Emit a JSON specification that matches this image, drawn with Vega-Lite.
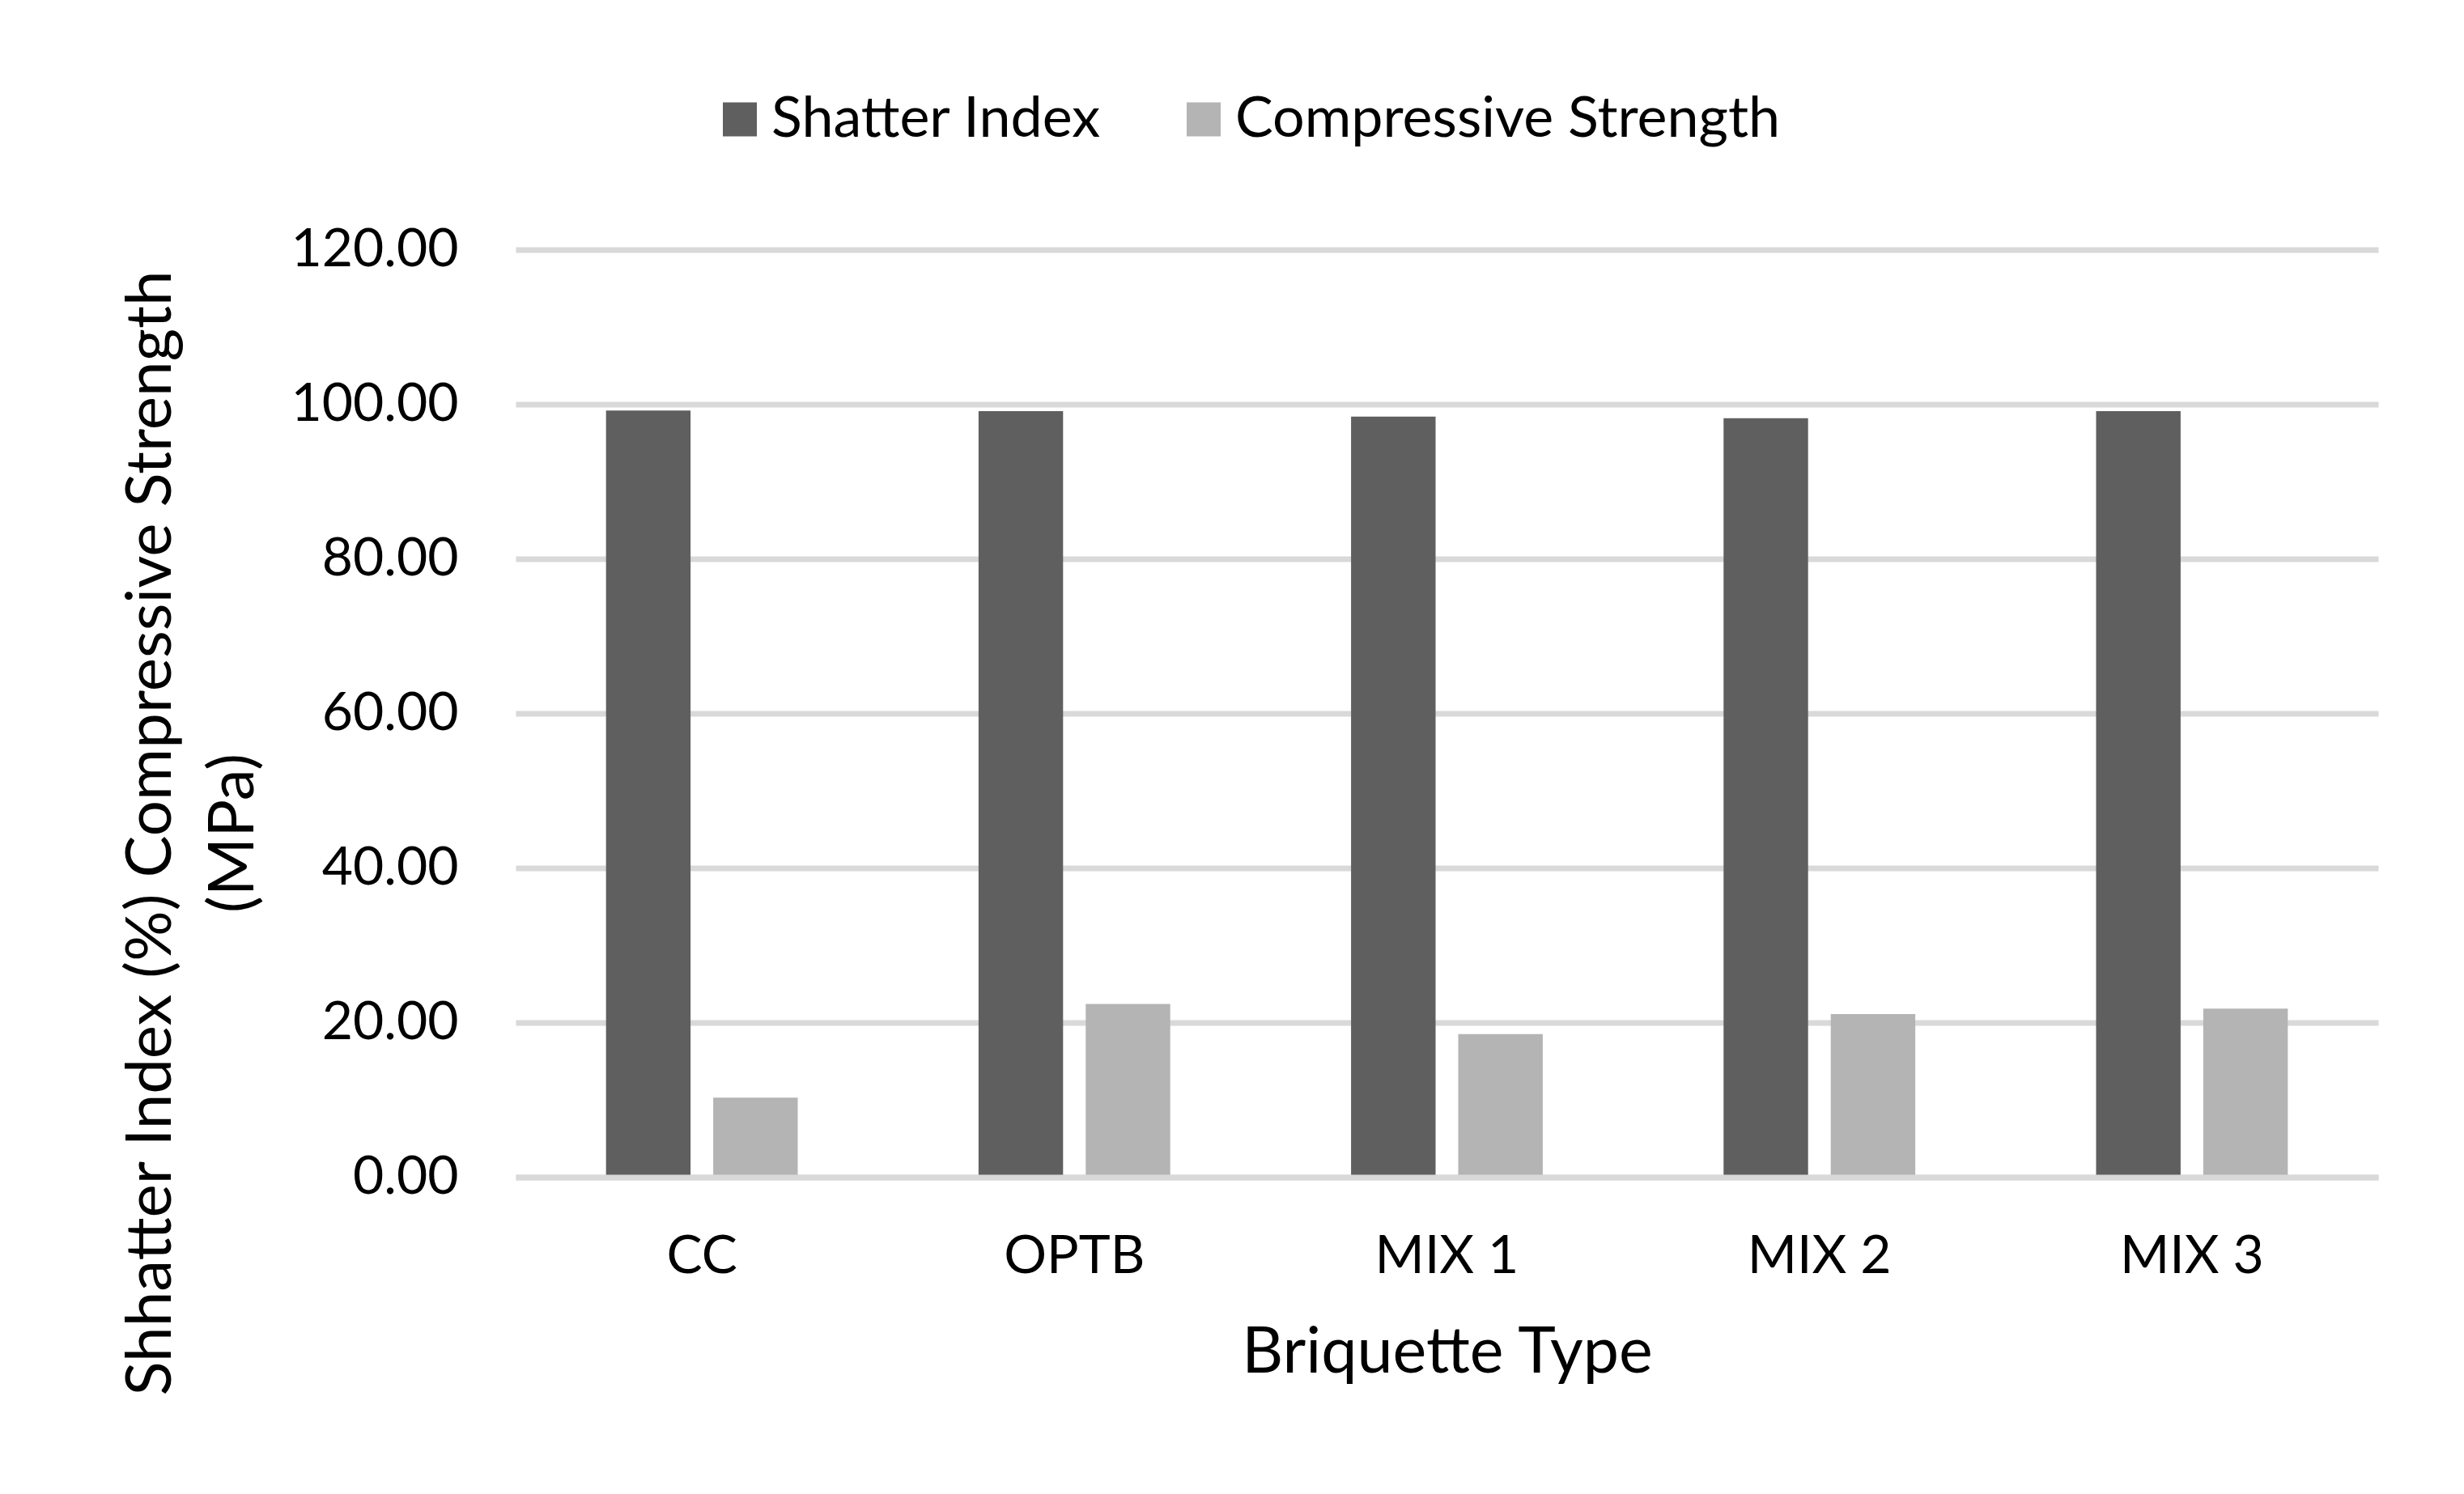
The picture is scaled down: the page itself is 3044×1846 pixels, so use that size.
{
  "$schema": "https://vega.github.io/schema/vega-lite/v6.json",
  "autosize": {"type": "none"},
  "width": 2301,
  "height": 1146,
  "padding": {"left": 637, "top": 308.5, "right": 106, "bottom": 391.5},
  "background": "white",
  "config": {
    "view": {"stroke": null},
    "font": "Lato",
    "axis": {"labelFont": "Lato", "titleFont": "Lato", "labelColor": "#000000", "titleColor": "#000000", "titleFontWeight": "normal"},
    "legend": {"labelFont": "Lato", "labelColor": "#000000"}
  },
  "data": {
    "values": [
      {"type": "CC", "series": "Shatter Index", "value": 99.2},
      {"type": "CC", "series": "Compressive Strength", "value": 10.3},
      {"type": "OPTB", "series": "Shatter Index", "value": 99.1},
      {"type": "OPTB", "series": "Compressive Strength", "value": 22.4},
      {"type": "MIX 1", "series": "Shatter Index", "value": 98.4},
      {"type": "MIX 1", "series": "Compressive Strength", "value": 18.5},
      {"type": "MIX 2", "series": "Shatter Index", "value": 98.2},
      {"type": "MIX 2", "series": "Compressive Strength", "value": 21.1},
      {"type": "MIX 3", "series": "Shatter Index", "value": 99.1},
      {"type": "MIX 3", "series": "Compressive Strength", "value": 21.8}
    ]
  },
  "mark": {"type": "bar"},
  "encoding": {
    "x": {
      "field": "type",
      "type": "nominal",
      "sort": ["CC", "OPTB", "MIX 1", "MIX 2", "MIX 3"],
      "scale": {"paddingInner": 0.4854, "paddingOuter": 0.2427},
      "axis": {
        "title": "Briquette Type",
        "titleFontSize": 79,
        "titlePadding": 48,
        "labelFontSize": 66,
        "labelPadding": 66,
        "labelAngle": 0,
        "labelLimit": 1000,
        "ticks": false,
        "tickSize": 0,
        "domain": true,
        "domainColor": "#d9d9d9",
        "domainWidth": 7,
        "grid": false,
        "zindex": 1
      }
    },
    "xOffset": {
      "field": "series",
      "type": "nominal",
      "sort": ["Shatter Index", "Compressive Strength"],
      "scale": {"paddingInner": 0.2115, "paddingOuter": 0}
    },
    "y": {
      "field": "value",
      "type": "quantitative",
      "scale": {"domain": [0, 120], "nice": false},
      "axis": {
        "title": ["Shhatter Index (%) Compressive Strength", "(MPa)"],
        "titleFontSize": 78,
        "titleLineHeight": 102,
        "titleAngle": -90,
        "titleAlign": "center",
        "titleBaseline": "alphabetic",
        "titleX": -427,
        "titleY": 720.5,
        "values": [0, 20, 40, 60, 80, 100, 120],
        "format": ".2f",
        "labelFontSize": 66,
        "labelPadding": 71,
        "labelLimit": 1000,
        "ticks": false,
        "tickSize": 0,
        "domain": false,
        "grid": true,
        "gridColor": "#d9d9d9",
        "gridWidth": 7
      }
    },
    "color": {
      "field": "series",
      "type": "nominal",
      "scale": {"domain": ["Shatter Index", "Compressive Strength"], "range": ["#5f5f5f", "#b4b4b4"]},
      "legend": {
        "title": null,
        "orient": "none",
        "direction": "horizontal",
        "legendX": 242,
        "legendY": -196,
        "padding": 0,
        "symbolType": "square",
        "symbolSize": 1764,
        "symbolStrokeWidth": 0,
        "labelFontSize": 70,
        "labelOffset": 4,
        "columnPadding": 91,
        "labelLimit": 1000
      }
    }
  }
}
